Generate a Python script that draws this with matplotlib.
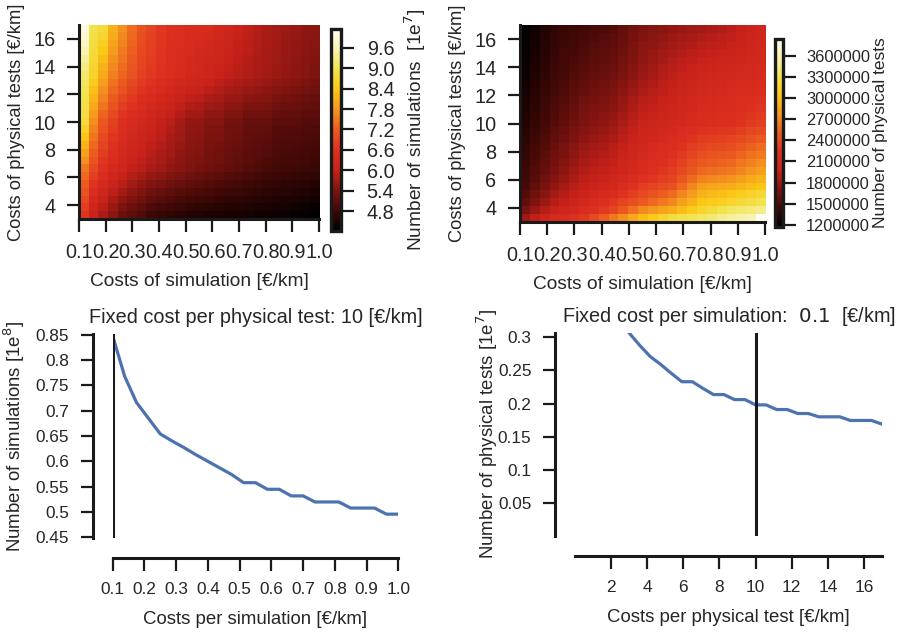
import numpy as np
import matplotlib
matplotlib.use("Agg")
import matplotlib.pyplot as plt
from matplotlib.colors import LinearSegmentedColormap

plt.rcParams['font.family'] = ['Liberation Sans', 'DejaVu Sans']
plt.rcParams['mathtext.fontset'] = 'dejavusans'
TXT = '#262626'
DARK = '#1a1a1a'

# ---------------- data ----------------
sim_costs = [0.1, 0.1375, 0.175, 0.2125, 0.25, 0.2875, 0.325, 0.3625, 0.4, 0.4375,
             0.475, 0.5125, 0.55, 0.5875, 0.625, 0.6625, 0.7, 0.7375, 0.775, 0.8125,
             0.85, 0.8875, 0.925, 0.9625, 1.0]
test_costs = [3.0, 3.583, 4.167, 4.75, 5.333, 5.917, 6.5, 7.083, 7.667, 8.25,
              8.833, 9.417, 10.0, 10.583, 11.167, 11.75, 12.333, 12.917, 13.5, 14.083,
              14.667, 15.25, 15.833, 16.417, 17.0]

# Number of simulations [1e7]; rows from test cost 17 (top) down to 3 (bottom)
n_sim_grid = [
    [9.97, 8.96, 8.79, 8.13, 7.72, 7.36, 7.07, 6.89, 6.71, 6.59, 6.53, 6.45, 6.41, 6.38, 6.30, 6.18, 6.05, 5.95, 5.85, 5.78, 5.72, 5.66, 5.61, 5.56, 5.52],
    [9.83, 8.90, 8.66, 8.03, 7.65, 7.31, 7.03, 6.86, 6.69, 6.57, 6.50, 6.42, 6.38, 6.34, 6.26, 6.14, 6.02, 5.93, 5.84, 5.77, 5.71, 5.65, 5.60, 5.54, 5.50],
    [9.70, 8.84, 8.53, 7.94, 7.58, 7.26, 6.99, 6.83, 6.67, 6.55, 6.48, 6.40, 6.35, 6.29, 6.21, 6.10, 5.99, 5.91, 5.82, 5.75, 5.69, 5.63, 5.58, 5.53, 5.48],
    [9.56, 8.79, 8.40, 7.84, 7.51, 7.21, 6.95, 6.80, 6.65, 6.53, 6.46, 6.38, 6.32, 6.25, 6.17, 6.07, 5.97, 5.89, 5.81, 5.74, 5.68, 5.62, 5.57, 5.51, 5.46],
    [9.42, 8.73, 8.26, 7.74, 7.44, 7.15, 6.91, 6.77, 6.63, 6.51, 6.43, 6.35, 6.28, 6.21, 6.12, 6.03, 5.94, 5.86, 5.79, 5.73, 5.67, 5.61, 5.55, 5.49, 5.44],
    [9.29, 8.67, 8.13, 7.65, 7.37, 7.10, 6.87, 6.74, 6.61, 6.49, 6.41, 6.33, 6.25, 6.16, 6.08, 5.99, 5.91, 5.84, 5.78, 5.71, 5.65, 5.59, 5.54, 5.48, 5.42],
    [9.15, 8.61, 8.00, 7.55, 7.30, 7.05, 6.83, 6.71, 6.59, 6.47, 6.38, 6.30, 6.22, 6.12, 6.03, 5.95, 5.88, 5.82, 5.76, 5.70, 5.64, 5.58, 5.52, 5.46, 5.40],
    [9.09, 8.46, 7.86, 7.43, 7.17, 6.94, 6.74, 6.61, 6.49, 6.37, 6.27, 6.18, 6.11, 6.01, 5.93, 5.85, 5.79, 5.72, 5.67, 5.62, 5.55, 5.50, 5.45, 5.39, 5.34],
    [9.03, 8.31, 7.72, 7.32, 7.05, 6.83, 6.64, 6.52, 6.39, 6.27, 6.17, 6.06, 6.01, 5.90, 5.84, 5.74, 5.69, 5.61, 5.57, 5.53, 5.45, 5.41, 5.37, 5.31, 5.27],
    [8.98, 8.16, 7.58, 7.20, 6.92, 6.73, 6.55, 6.42, 6.30, 6.17, 6.06, 5.94, 5.90, 5.79, 5.74, 5.64, 5.60, 5.51, 5.48, 5.45, 5.36, 5.33, 5.30, 5.24, 5.21],
    [8.92, 8.00, 7.44, 7.08, 6.79, 6.62, 6.46, 6.32, 6.20, 6.07, 5.95, 5.82, 5.79, 5.67, 5.64, 5.53, 5.51, 5.41, 5.39, 5.37, 5.27, 5.25, 5.23, 5.17, 5.15],
    [8.86, 7.85, 7.30, 6.97, 6.67, 6.51, 6.36, 6.23, 6.10, 5.97, 5.85, 5.70, 5.69, 5.56, 5.55, 5.43, 5.41, 5.30, 5.29, 5.28, 5.17, 5.16, 5.15, 5.09, 5.08],
    [8.80, 7.70, 7.16, 6.85, 6.54, 6.40, 6.27, 6.13, 6.00, 5.87, 5.74, 5.58, 5.58, 5.45, 5.45, 5.32, 5.32, 5.20, 5.20, 5.20, 5.08, 5.08, 5.08, 5.02, 5.02],
    [8.58, 7.58, 7.07, 6.77, 6.48, 6.33, 6.21, 6.07, 5.95, 5.82, 5.70, 5.55, 5.54, 5.42, 5.41, 5.30, 5.29, 5.18, 5.17, 5.16, 5.05, 5.04, 5.04, 4.99, 4.98],
    [8.36, 7.45, 6.97, 6.68, 6.43, 6.27, 6.14, 6.01, 5.89, 5.77, 5.66, 5.52, 5.50, 5.40, 5.38, 5.27, 5.25, 5.15, 5.13, 5.11, 5.02, 5.00, 5.00, 4.95, 4.94],
    [8.14, 7.33, 6.88, 6.60, 6.37, 6.20, 6.08, 5.95, 5.84, 5.73, 5.62, 5.50, 5.47, 5.37, 5.34, 5.25, 5.22, 5.13, 5.10, 5.07, 4.99, 4.97, 4.96, 4.92, 4.90],
    [7.92, 7.20, 6.79, 6.52, 6.31, 6.13, 6.01, 5.88, 5.78, 5.68, 5.58, 5.47, 5.43, 5.34, 5.30, 5.22, 5.18, 5.10, 5.06, 5.02, 4.95, 4.93, 4.91, 4.88, 4.86],
    [7.70, 7.08, 6.69, 6.43, 6.26, 6.07, 5.95, 5.82, 5.73, 5.63, 5.54, 5.44, 5.39, 5.32, 5.27, 5.20, 5.15, 5.08, 5.03, 4.98, 4.92, 4.89, 4.87, 4.85, 4.82],
    [7.48, 6.95, 6.60, 6.35, 6.20, 6.00, 5.88, 5.76, 5.67, 5.58, 5.50, 5.41, 5.35, 5.29, 5.23, 5.17, 5.11, 5.05, 4.99, 4.93, 4.89, 4.85, 4.83, 4.81, 4.78],
    [7.34, 6.80, 6.46, 6.21, 6.04, 5.85, 5.73, 5.60, 5.52, 5.43, 5.36, 5.27, 5.22, 5.16, 5.11, 5.05, 5.00, 4.95, 4.89, 4.84, 4.80, 4.77, 4.74, 4.72, 4.69],
    [7.20, 6.65, 6.32, 6.07, 5.88, 5.70, 5.58, 5.44, 5.36, 5.28, 5.21, 5.13, 5.08, 5.03, 4.98, 4.93, 4.89, 4.84, 4.79, 4.75, 4.72, 4.68, 4.65, 4.63, 4.59],
    [7.07, 6.50, 6.18, 5.93, 5.72, 5.56, 5.44, 5.29, 5.21, 5.14, 5.07, 5.00, 4.95, 4.91, 4.86, 4.82, 4.79, 4.74, 4.70, 4.67, 4.63, 4.60, 4.57, 4.54, 4.50],
    [6.93, 6.35, 6.03, 5.78, 5.55, 5.41, 5.29, 5.13, 5.06, 4.99, 4.92, 4.86, 4.82, 4.78, 4.74, 4.70, 4.68, 4.64, 4.60, 4.58, 4.54, 4.51, 4.48, 4.45, 4.41],
    [6.79, 6.20, 5.89, 5.64, 5.39, 5.26, 5.14, 4.97, 4.90, 4.84, 4.78, 4.72, 4.68, 4.65, 4.61, 4.58, 4.57, 4.53, 4.50, 4.49, 4.46, 4.43, 4.39, 4.36, 4.31],
    [6.65, 6.05, 5.75, 5.50, 5.23, 5.11, 4.99, 4.81, 4.75, 4.69, 4.63, 4.58, 4.55, 4.52, 4.49, 4.46, 4.46, 4.43, 4.40, 4.40, 4.37, 4.34, 4.30, 4.27, 4.22],
]

# Number of physical tests [millions]; rows from test cost 17 (top) down to 3 (bottom)
n_test_grid = [
    [1.19, 1.25, 1.32, 1.38, 1.41, 1.43, 1.46, 1.49, 1.51, 1.54, 1.59, 1.65, 1.70, 1.73, 1.75, 1.78, 1.80, 1.82, 1.84, 1.87, 1.89, 1.92, 1.96, 2.01, 2.05],
    [1.20, 1.26, 1.33, 1.39, 1.42, 1.45, 1.48, 1.51, 1.53, 1.56, 1.61, 1.67, 1.72, 1.75, 1.78, 1.81, 1.83, 1.85, 1.88, 1.90, 1.92, 1.95, 1.98, 2.03, 2.06],
    [1.21, 1.27, 1.34, 1.40, 1.43, 1.46, 1.50, 1.53, 1.55, 1.58, 1.63, 1.69, 1.74, 1.77, 1.80, 1.83, 1.86, 1.88, 1.91, 1.94, 1.95, 1.98, 2.01, 2.05, 2.08],
    [1.22, 1.28, 1.35, 1.41, 1.45, 1.48, 1.52, 1.55, 1.57, 1.60, 1.65, 1.71, 1.76, 1.79, 1.83, 1.86, 1.89, 1.92, 1.95, 1.97, 1.99, 2.01, 2.04, 2.07, 2.09],
    [1.23, 1.29, 1.36, 1.42, 1.46, 1.50, 1.53, 1.56, 1.58, 1.61, 1.66, 1.72, 1.77, 1.81, 1.85, 1.89, 1.92, 1.95, 1.98, 2.00, 2.02, 2.04, 2.06, 2.08, 2.10],
    [1.24, 1.30, 1.37, 1.43, 1.47, 1.51, 1.55, 1.58, 1.60, 1.63, 1.68, 1.74, 1.79, 1.83, 1.88, 1.91, 1.95, 1.98, 2.02, 2.04, 2.05, 2.07, 2.09, 2.11, 2.12],
    [1.25, 1.31, 1.38, 1.44, 1.48, 1.53, 1.57, 1.60, 1.62, 1.65, 1.70, 1.76, 1.81, 1.85, 1.90, 1.94, 1.98, 2.01, 2.05, 2.07, 2.08, 2.10, 2.11, 2.12, 2.13],
    [1.26, 1.33, 1.40, 1.46, 1.50, 1.55, 1.59, 1.62, 1.65, 1.68, 1.73, 1.79, 1.84, 1.88, 1.93, 1.96, 2.00, 2.03, 2.07, 2.09, 2.10, 2.12, 2.14, 2.15, 2.17],
    [1.28, 1.34, 1.41, 1.47, 1.52, 1.57, 1.61, 1.65, 1.67, 1.70, 1.76, 1.82, 1.87, 1.91, 1.95, 1.99, 2.02, 2.06, 2.09, 2.11, 2.12, 2.14, 2.16, 2.18, 2.20],
    [1.29, 1.36, 1.43, 1.49, 1.54, 1.59, 1.64, 1.67, 1.70, 1.73, 1.79, 1.85, 1.91, 1.94, 1.98, 2.01, 2.05, 2.08, 2.12, 2.13, 2.15, 2.16, 2.19, 2.21, 2.24],
    [1.30, 1.37, 1.44, 1.51, 1.55, 1.61, 1.66, 1.69, 1.72, 1.76, 1.81, 1.88, 1.94, 1.97, 2.00, 2.04, 2.07, 2.10, 2.14, 2.15, 2.17, 2.18, 2.21, 2.24, 2.27],
    [1.32, 1.39, 1.46, 1.52, 1.57, 1.63, 1.68, 1.72, 1.75, 1.78, 1.84, 1.91, 1.97, 2.00, 2.03, 2.06, 2.09, 2.13, 2.16, 2.17, 2.19, 2.20, 2.24, 2.27, 2.30],
    [1.33, 1.40, 1.47, 1.54, 1.59, 1.65, 1.70, 1.74, 1.77, 1.81, 1.87, 1.94, 2.00, 2.03, 2.05, 2.08, 2.11, 2.15, 2.18, 2.19, 2.21, 2.22, 2.26, 2.30, 2.34],
    [1.35, 1.42, 1.49, 1.57, 1.62, 1.68, 1.73, 1.77, 1.80, 1.84, 1.90, 1.97, 2.03, 2.06, 2.09, 2.12, 2.16, 2.21, 2.24, 2.26, 2.28, 2.29, 2.33, 2.38, 2.42],
    [1.37, 1.44, 1.52, 1.59, 1.65, 1.71, 1.76, 1.80, 1.83, 1.87, 1.93, 2.00, 2.06, 2.10, 2.12, 2.16, 2.21, 2.26, 2.31, 2.32, 2.34, 2.36, 2.41, 2.45, 2.50],
    [1.39, 1.47, 1.54, 1.62, 1.68, 1.74, 1.80, 1.84, 1.87, 1.91, 1.97, 2.03, 2.09, 2.13, 2.16, 2.20, 2.26, 2.32, 2.37, 2.39, 2.41, 2.43, 2.48, 2.53, 2.58],
    [1.40, 1.49, 1.56, 1.65, 1.70, 1.77, 1.83, 1.87, 1.90, 1.94, 2.00, 2.06, 2.12, 2.16, 2.20, 2.24, 2.30, 2.37, 2.43, 2.46, 2.48, 2.50, 2.55, 2.61, 2.66],
    [1.42, 1.51, 1.59, 1.67, 1.73, 1.80, 1.86, 1.90, 1.93, 1.97, 2.03, 2.09, 2.15, 2.20, 2.23, 2.28, 2.35, 2.43, 2.50, 2.52, 2.54, 2.57, 2.63, 2.68, 2.74],
    [1.44, 1.53, 1.61, 1.70, 1.76, 1.83, 1.89, 1.93, 1.96, 2.00, 2.06, 2.12, 2.18, 2.23, 2.27, 2.32, 2.40, 2.48, 2.56, 2.59, 2.61, 2.64, 2.70, 2.76, 2.82],
    [1.46, 1.55, 1.64, 1.73, 1.79, 1.86, 1.92, 1.96, 2.01, 2.05, 2.11, 2.18, 2.24, 2.28, 2.33, 2.37, 2.48, 2.58, 2.69, 2.72, 2.74, 2.77, 2.82, 2.88, 2.93],
    [1.49, 1.59, 1.68, 1.78, 1.84, 1.91, 1.97, 2.01, 2.06, 2.10, 2.17, 2.25, 2.32, 2.36, 2.41, 2.45, 2.57, 2.70, 2.82, 2.85, 2.87, 2.90, 2.95, 2.99, 3.04],
    [1.54, 1.64, 1.74, 1.84, 1.90, 1.96, 2.02, 2.07, 2.13, 2.18, 2.25, 2.33, 2.40, 2.46, 2.52, 2.58, 2.70, 2.81, 2.93, 2.97, 3.00, 3.04, 3.09, 3.15, 3.20],
    [1.59, 1.70, 1.80, 1.90, 1.96, 2.02, 2.08, 2.15, 2.22, 2.29, 2.36, 2.43, 2.50, 2.57, 2.65, 2.72, 2.83, 2.93, 3.04, 3.08, 3.13, 3.17, 3.22, 3.26, 3.31],
    [1.68, 1.80, 1.90, 1.99, 2.04, 2.10, 2.16, 2.23, 2.30, 2.37, 2.49, 2.60, 2.72, 2.78, 2.84, 2.90, 2.99, 3.08, 3.17, 3.23, 3.30, 3.36, 3.40, 3.43, 3.47],
    [1.82, 1.95, 2.04, 2.13, 2.18, 2.24, 2.29, 2.41, 2.52, 2.64, 2.75, 2.87, 2.98, 3.07, 3.16, 3.25, 3.29, 3.32, 3.36, 3.41, 3.47, 3.52, 3.55, 3.58, 3.84],
]

# Bottom-left: number of simulations [1e8] at physical test cost 10
sim_curve = [0.847, 0.768, 0.716, 0.685, 0.654, 0.640, 0.627, 0.613, 0.600, 0.587,
             0.574, 0.558, 0.558, 0.545, 0.545, 0.532, 0.532, 0.520, 0.520, 0.520,
             0.508, 0.508, 0.508, 0.496, 0.496]
# Bottom-right: number of physical tests [1e7] at simulation cost 0.1
test_curve = [0.3066, 0.288, 0.271, 0.259, 0.2457, 0.233, 0.233, 0.223, 0.2136, 0.2136,
              0.206, 0.206, 0.198, 0.198, 0.191, 0.191, 0.185, 0.185, 0.180, 0.180,
              0.180, 0.1745, 0.1745, 0.1745, 0.169]

sim_cbar_ticks = [4.8, 5.4, 6.0, 6.6, 7.2, 7.8, 8.4, 9.0, 9.6]
test_cbar_ticks = [1200000, 1500000, 1800000, 2100000, 2400000, 2700000, 3000000, 3300000, 3600000]
heat_xticks = [0.1, 0.2, 0.3, 0.4, 0.5, 0.6, 0.7, 0.8, 0.9, 1.0]
heat_yticks = [4, 6, 8, 10, 12, 14, 16]
bl_yticks = [0.45, 0.5, 0.55, 0.6, 0.65, 0.7, 0.75, 0.8, 0.85]
br_yticks = [0.05, 0.1, 0.15, 0.2, 0.25, 0.3]
br_xticks = [2, 4, 6, 8, 10, 12, 14, 16]

cmap = LinearSegmentedColormap.from_list('heat', [
    (0.0, '#000000'), (0.098, '#3c0806'), (0.199, '#7e1410'), (0.30, '#c8221a'),
    (0.40, '#de3020'), (0.503, '#ec5c20'), (0.604, '#f5981f'), (0.705, '#fcc814'),
    (0.806, '#f2e450'), (0.907, '#f8f4b8'), (1.0, '#fffff2')])

W, H = 897, 634
fig = plt.figure(figsize=(W / 100, H / 100), dpi=100)


def rect(x0, y0, x1, y1):
    return [x0 / W, 1 - y1 / H, (x1 - x0) / W, (y1 - y0) / H]


def fmt(v):
    s = ('%.2f' % v).rstrip('0')
    if s.endswith('.'):
        s += '0'
    return s


def style_axes(ax, labelsize, offset=0):
    for s in ['top', 'right']:
        ax.spines[s].set_visible(False)
    for s in ['left', 'bottom']:
        ax.spines[s].set_linewidth(2.2)
        ax.spines[s].set_color(DARK)
        if offset:
            ax.spines[s].set_position(('outward', offset))
    ax.tick_params(length=9, width=1.6, color=DARK, labelcolor=TXT,
                   labelsize=labelsize, pad=8)


def heatmap(ax_rect, cax_rect, grid, vmin, vmax, cticks, clabels, clabel, csize,
            clsize, cpad, lpad):
    ax = fig.add_axes(rect(*ax_rect))
    im = ax.imshow(np.array(grid), cmap=cmap, vmin=vmin, vmax=vmax, aspect='auto',
                   origin='upper', interpolation='nearest',
                   extent=[sim_costs[0], sim_costs[-1], test_costs[0], test_costs[-1]])
    style_axes(ax, 14.3)
    ax.set_xticks(heat_xticks)
    ax.set_xticklabels(['%.1f' % v for v in heat_xticks])
    ax.set_yticks(heat_yticks)
    ax.set_xlabel('Costs of simulation [€/km]', fontsize=13.8, color=TXT, labelpad=8)
    ax.set_ylabel('Costs of physical tests [€/km]', fontsize=13.2, color=TXT, labelpad=6)
    cax = fig.add_axes(rect(*cax_rect))
    cb = fig.colorbar(im, cax=cax)
    cb.outline.set_linewidth(2.4)
    cb.outline.set_edgecolor(DARK)
    cb.set_ticks(cticks)
    cb.set_ticklabels(clabels)
    cax.tick_params(length=9, width=1.6, color=DARK, labelcolor=TXT,
                    labelsize=csize, pad=cpad)
    cb.set_label(clabel, fontsize=clsize, color=TXT, labelpad=lpad)
    return ax


heatmap((79, 25, 319, 219), (331, 29, 341, 231), n_sim_grid, 4.22, 10.15,
        sim_cbar_ticks, ['%.1f' % v for v in sim_cbar_ticks],
        'Number of simulations  [1e$^{7}$]', 14.3, 13.8, 9.5, 6)
heatmap((520, 25, 765, 222), (775, 39, 783, 227), n_test_grid, 1.168, 3.84,
        [v / 1e6 for v in test_cbar_ticks], ['%d' % v for v in test_cbar_ticks],
        'Number of physical tests', 11.8, 12.5, 7.5, 2)

# bottom-left
ax = fig.add_axes(rect(112.7, 334, 398.3, 538))
style_axes(ax, 12.4, offset=14.4)
ax.plot(sim_costs, sim_curve, color='#4c72b0', lw=2.3)
ax.axvline(sim_costs[0], color=DARK, lw=2.2)
ax.set_xlim(sim_costs[0], sim_costs[-1])
ax.set_ylim(0.449, 0.851)
ax.set_xticks(heat_xticks)
ax.set_xticklabels(['%.1f' % v for v in heat_xticks])
ax.set_yticks(bl_yticks)
ax.set_yticklabels([fmt(v) for v in bl_yticks])
ax.set_xlabel('Costs per simulation [€/km]', fontsize=13.4, color=TXT, labelpad=10)
ax.set_ylabel('Number of simulations [1e$^{8}$]', fontsize=13.4, color=TXT)
ax.yaxis.set_label_coords(-0.30, 0.5)
ax.set_title('Fixed cost per physical test: 10 [€/km]', fontsize=14.3, color=TXT, pad=8)

# bottom-right
ax = fig.add_axes(rect(575, 333, 882, 536))
style_axes(ax, 12.4, offset=14.4)
ax.plot(test_costs, test_curve, color='#4c72b0', lw=2.3)
ax.axvline(10, color=DARK, lw=2.2)
ax.set_xlim(0, 17)
ax.set_ylim(0, max(test_curve))
ax.set_xticks(br_xticks)
ax.set_yticks(br_yticks)
ax.set_yticklabels([fmt(v) for v in br_yticks])
ax.set_xlabel('Costs per physical test [€/km]', fontsize=13.4, color=TXT, labelpad=10)
ax.set_ylabel('Number of physical tests [1e$^{7}$]', fontsize=13.4, color=TXT)
ax.yaxis.set_label_coords(-0.245, 0.5)
ax.set_title('Fixed cost per simulation:  $0.1$  [€/km]', fontsize=14.3, color=TXT, pad=8)

fig.savefig('out.png', dpi=100)
